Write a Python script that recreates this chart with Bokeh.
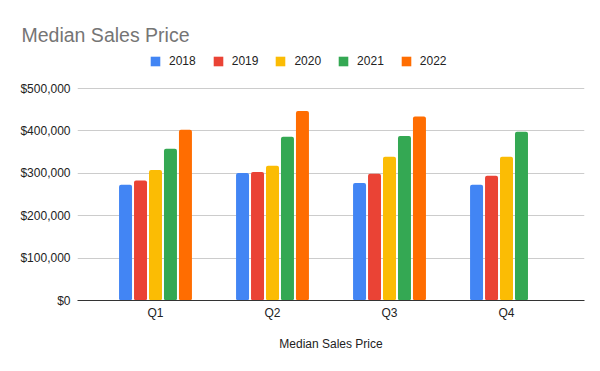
from bokeh.plotting import figure
from bokeh.models import (ColumnDataSource, FactorRange, Range1d, Legend, LegendItem,
                          Title, NumeralTickFormatter, FixedTicker)
from bokeh.transform import dodge
from bokeh.embed import file_html
from bokeh.resources import INLINE

quarters = ["Q1", "Q2", "Q3", "Q4"]
years = ["2018", "2019", "2020", "2021", "2022"]
v2018 = [273000, 301000, 277000, 273000]
v2019 = [283000, 303000, 299000, 294000]
v2020 = [308000, 318000, 339000, 339000]
v2021 = [358000, 386000, 388000, 398000]
v2022 = [403000, 447000, 434000, float("nan")]
colors = ["#4285F4", "#EA4335", "#FBBC04", "#34A853", "#FF6D01"]
y_ticks = [0, 100000, 200000, 300000, 400000, 500000]

src = ColumnDataSource(dict(q=quarters, y2018=v2018, y2019=v2019, y2020=v2020,
                            y2021=v2021, y2022=v2022))

FONT = "Liberation Sans"
# frame spans y 52..300 px; top gridline ($500,000) sits 212 px above the baseline
y_top = y_ticks[-1] * 248 / 212
p = figure(width=600, height=371, output_backend="svg", toolbar_location=None,
           x_range=FactorRange(factors=quarters, range_padding=0.0833),
           y_range=Range1d(0, y_top),
           min_border_left=77, min_border_right=16, min_border_top=52, min_border_bottom=71)
p.outline_line_color = None
p.background_fill_color = "white"
p.border_fill_color = "white"

p.title = Title(text="Median Sales Price", text_font=FONT, text_font_size="19.5px",
                text_font_style="normal", text_color="#757575", align="left",
                offset=-56, standoff=14)

pitch = 0.128
bw = 0.111
items = []
for i, (yr, c) in enumerate(zip(years, colors)):
    r = p.vbar(x=dodge("q", (i - 2) * pitch, range=p.x_range), top="y" + yr, width=bw,
               source=src, fill_color=c, line_color=None, border_radius=2)
    items.append(LegendItem(label=yr, renderers=[r]))

legend = Legend(items=items, orientation="horizontal", location=(72, 232),
                padding=0, margin=0, spacing=16, label_standoff=8,
                glyph_width=12, glyph_height=12, label_height=12,
                label_text_font=FONT, label_text_font_size="12px",
                label_text_color="#222222", border_line_color=None,
                background_fill_alpha=0)
p.add_layout(legend, "center")

p.yaxis.ticker = FixedTicker(ticks=y_ticks)
p.yaxis.formatter = NumeralTickFormatter(format="$0,0")
p.yaxis.axis_line_color = None
p.yaxis.major_tick_line_color = None
p.yaxis.major_tick_out = 0
p.yaxis.minor_tick_line_color = None
p.yaxis.major_label_standoff = 7
p.yaxis.major_label_text_font = FONT
p.yaxis.major_label_text_font_size = "12px"
p.yaxis.major_label_text_color = "#222222"

p.xaxis.axis_line_color = "#333333"
p.xaxis.axis_line_width = 1
p.xaxis.major_tick_line_color = None
p.xaxis.major_tick_out = 0
p.xaxis.minor_tick_line_color = None
p.xaxis.major_label_standoff = 5
p.xaxis.major_label_text_font = FONT
p.xaxis.major_label_text_font_size = "12px"
p.xaxis.major_label_text_color = "#222222"
p.xaxis.axis_label = "Median Sales Price"
p.xaxis.axis_label_text_font = FONT
p.xaxis.axis_label_text_font_size = "12px"
p.xaxis.axis_label_text_font_style = "normal"
p.xaxis.axis_label_text_color = "#222222"
p.xaxis.axis_label_standoff = 14

p.xgrid.grid_line_color = None
p.ygrid.grid_line_color = "#cccccc"

open("out.html", "w").write(file_html(p, INLINE))
